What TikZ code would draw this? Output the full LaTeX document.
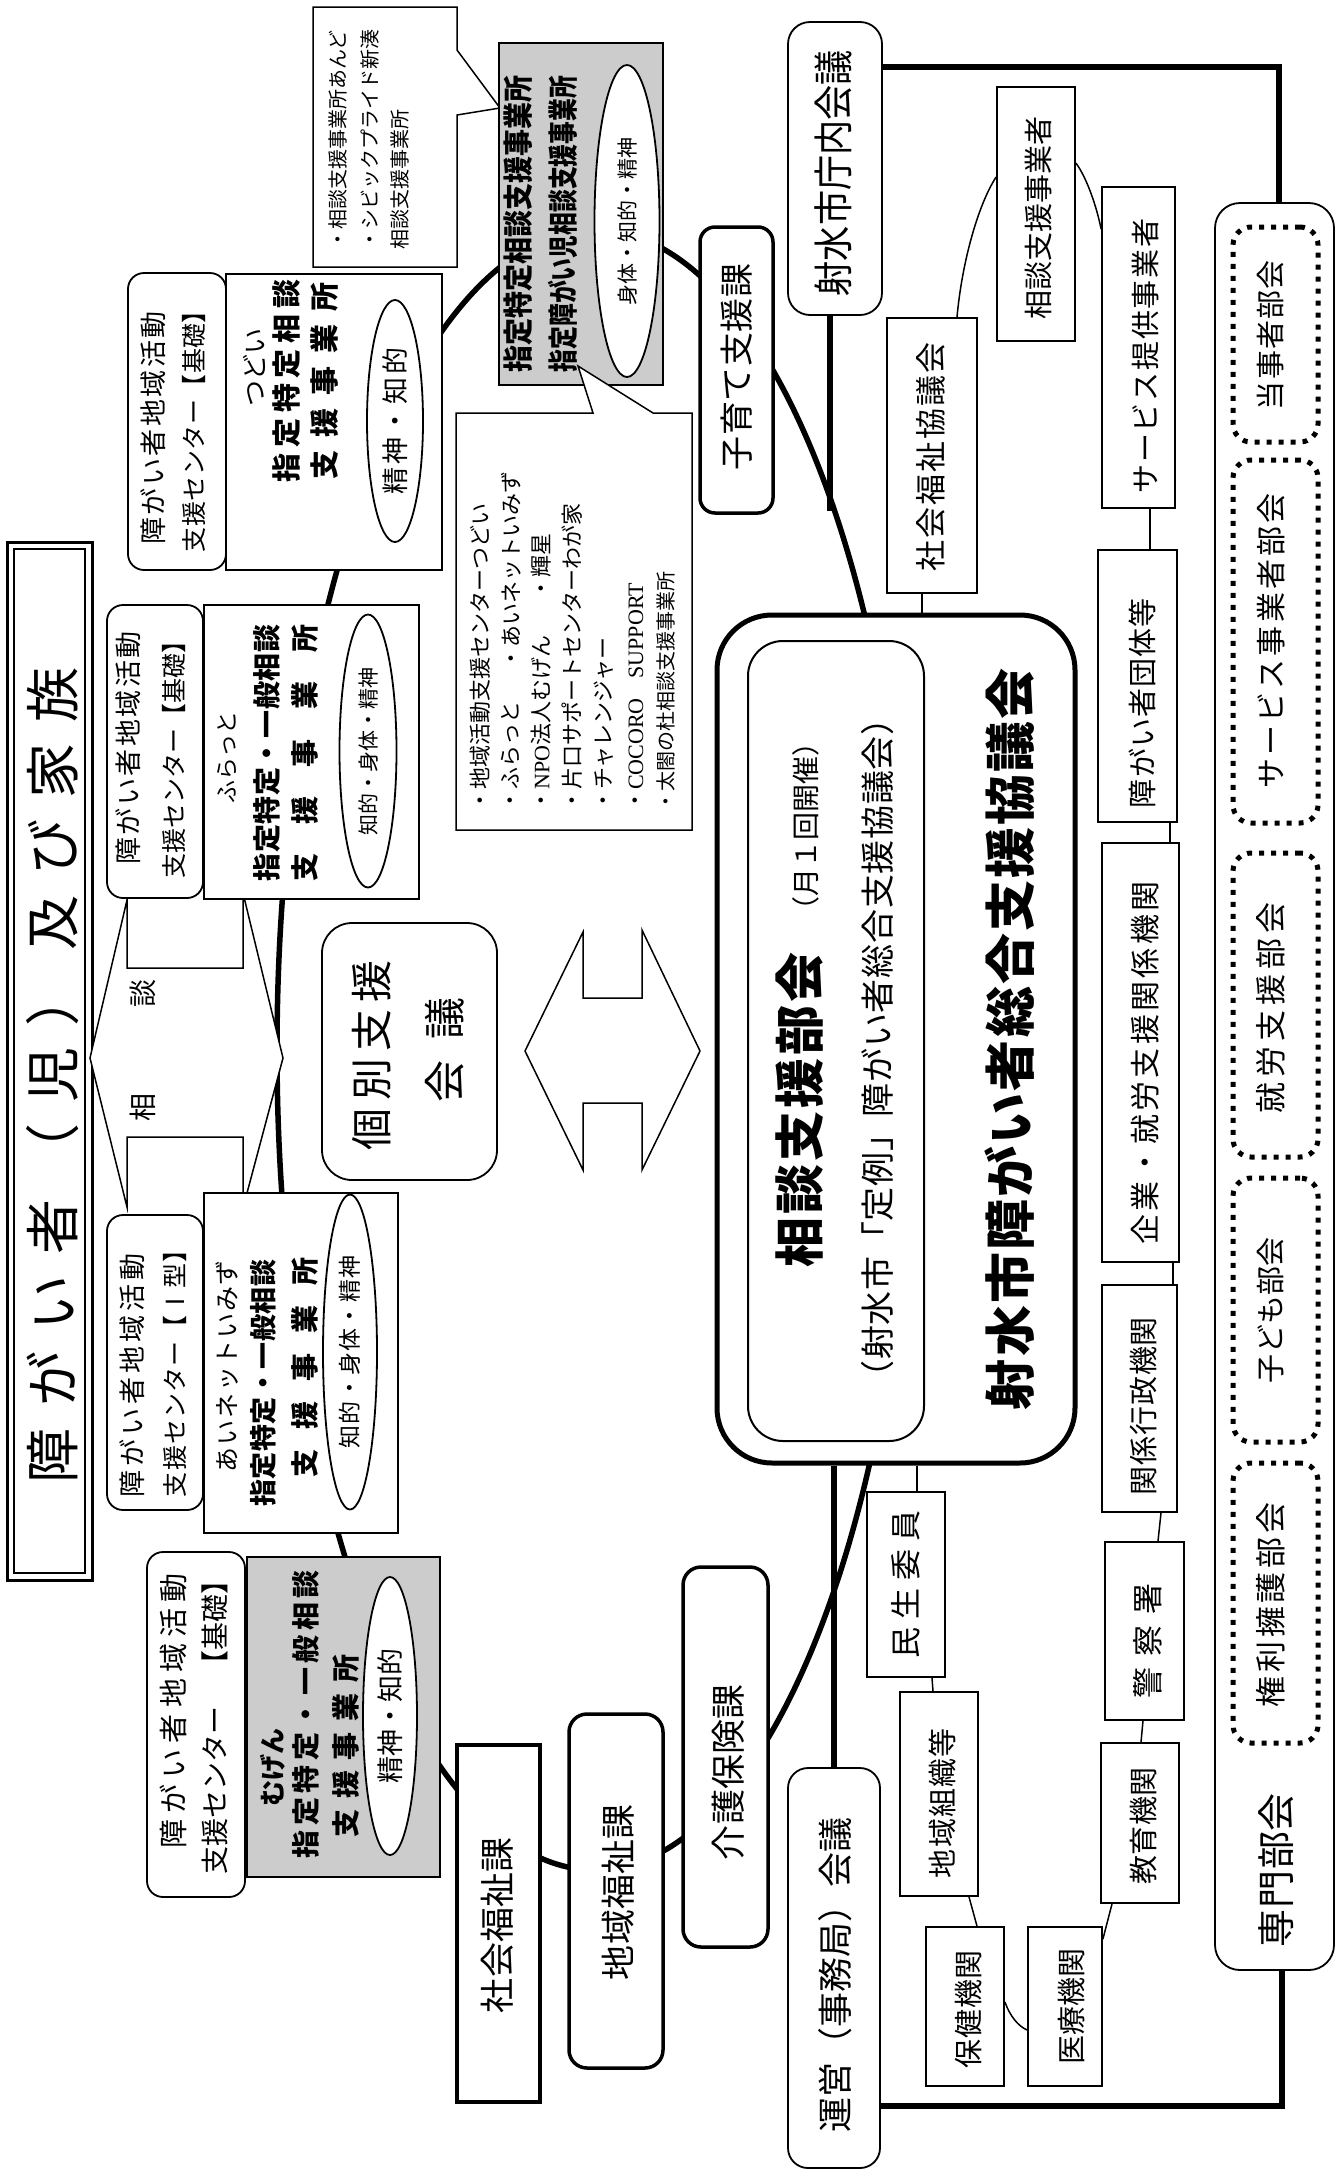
\documentclass[tikz,border=0pt]{standalone}
\usepackage{fontspec}
\setmainfont{Noto Sans CJK JP}
\newfontfamily\lat{Liberation Serif}
\usetikzlibrary{fit,calc,shapes.geometric,backgrounds}
\newcommand\fsz[1]{\fontsize{#1pt}{#1pt}\selectfont}
\ExplSyntaxOn
\tl_new:N \l_spr_a_tl
\tl_new:N \l_spr_b_tl
\NewDocumentCommand\spreadtxt{mm}{
  \tl_set:Nn \l_spr_a_tl {#2}
  \tl_set:Nx \l_spr_b_tl { \tl_tail:N \l_spr_a_tl }
  \makebox[#1][s]{ \tl_head:N \l_spr_a_tl \tl_map_inline:Nn \l_spr_b_tl { \hfill ##1 } }
}
\ExplSyntaxOff
\begin{document}
\begin{tikzpicture}[x=1pt,y=-1pt,
  tx/.style={rotate=90, inner sep=0pt},
  bx/.style={draw, line width=1.8pt, fill=white, inner sep=0pt},
  thkbx/.style={draw, line width=3.5pt, fill=white, inner sep=0pt},
  shd/.style={draw, line width=1.8pt, fill=black!20, inner sep=0pt},
  dotbx/.style={draw, line width=5pt, dash pattern=on 5pt off 7pt, rounded corners=18pt, inner sep=0pt},
  ell/.style={draw, ellipse, line width=1.8pt, fill=white, inner sep=0pt, rotate=90},
  thk/.style={line width=5.5pt},
  thn/.style={line width=1.5pt}]
\useasboundingbox (0,0) rectangle (1343,2180);

% ---------- title ----------
\node[bx, line width=3pt, fit={(7,542)(92,1580)}] (ttlO) {};
\node[draw, line width=1.5pt, inner sep=0pt, fit={(14,549)(85,1573)}] (ttlI) {};
\node[tx] (ttl) at (53,1075) {\fsz{55}\spreadtxt{816pt}{障がい者（児）及び家族}};

% ---------- consultation arrow ----------
\draw[thn, fill=white] (90,1058) -- (127,900) -- (127,968) -- (243,968) -- (243,893) -- (283,1058) -- (243,1208) -- (243,1137) -- (127,1137) -- (127,1207) -- cycle;
\node[tx] (soA) at (143,1107) {\fsz{28}相};
\node[tx] (soB) at (143,993) {\fsz{28}談};

% ---------- top callout ----------
\draw[thn, fill=white] (313,7) -- (457,7) -- (457,50) -- (500,108) -- (457,115) -- (457,267) -- (313,267) -- cycle;
\node[tx, anchor=west] (ca1) at (338,250) {\fsz{20}・相談支援事業所あんど};
\node[tx, anchor=west] (ca2) at (370,250) {\fsz{20}・シビックプライド新湊};
\node[tx, anchor=west] (ca3) at (400,250) {\fsz{20}相談支援事業所};

% ---------- tsudoi ----------
\node[bx, rounded corners=16pt, fit={(128,273)(226,570)}] (rbA) {};
\node[tx] (tA1) at (153,428) {\fsz{27}\spreadtxt{233pt}{障がい者地域活動}};
\node[tx] (tA2) at (194,425) {\fsz{25}\spreadtxt{254pt}{支援センター【基礎】}};
\node[bx, fit={(226,274)(442,570)}] (bxA) {};
\node[tx] (tA3) at (254,367) {\fsz{26}つどい};
\node[tx] (tA4) at (287,381) {\bfseries\fsz{29}\spreadtxt{203pt}{指定特定相談}};
\node[tx] (tA5) at (325,381) {\bfseries\fsz{29}\spreadtxt{197pt}{支援事業所}};
\node[ell, minimum width=242pt, minimum height=56pt] (elA) at (395,421) {\fsz{27}\spreadtxt{147pt}{精神・知的}};

% ---------- furatto ----------
\node[bx, rounded corners=16pt, fit={(107,605)(203,898)}] (rbB) {};
\node[tx] (tB1) at (128,748) {\fsz{27}\spreadtxt{233pt}{障がい者地域活動}};
\node[tx] (tB2) at (174,754) {\fsz{25}\spreadtxt{248pt}{支援センター【基礎】}};
\node[bx, fit={(204,605)(419,899)}] (bxB) {};
\node[tx] (tB3) at (227,757) {\fsz{23}ふらっと};
\node[tx] (tB4) at (267,753) {\bfseries\fsz{28}\spreadtxt{257pt}{指定特定・一般相談}};
\node[tx] (tB5) at (305,753) {\bfseries\fsz{28}\spreadtxt{257pt}{支援事業所}};
\node[ell, minimum width=273pt, minimum height=57pt] (elB) at (368,751) {\fsz{21}知的・身体・精神};

% ---------- ainet ----------
\node[bx, rounded corners=16pt, fit={(107,1215)(203,1510)}] (rbC) {};
\node[tx] (tC1) at (132,1375) {\fsz{27}\spreadtxt{244pt}{障がい者地域活動}};
\node[tx] (tC2) at (175,1367) {\fsz{25}\spreadtxt{260pt}{支援センター【Ⅰ型】}};
\node[bx, fit={(204,1193)(398,1533)}] (bxC) {};
\node[tx] (tC3) at (227,1366) {\fsz{25}\spreadtxt{212pt}{あいネットいみず}};
\node[tx] (tC4) at (263,1383) {\bfseries\fsz{27}\spreadtxt{247pt}{指定特定・一般相談}};
\node[tx] (tC5) at (305,1367) {\bfseries\fsz{28}\spreadtxt{220pt}{支援事業所}};
\node[ell, minimum width=315pt, minimum height=54pt] (elC) at (350,1352) {\fsz{23}\spreadtxt{193pt}{知的・身体・精神}};

% ---------- mugen ----------
\node[bx, rounded corners=16pt, fit={(147,1552)(245,1897)}] (rbD) {};
\node[tx] (tD1) at (173,1711) {\fsz{29}\spreadtxt{275pt}{障がい者地域活動}};
\node[tx] (tD2) at (215,1722) {\fsz{28}\spreadtxt{305pt}{支援センター　【基礎】}};
\node[shd, fit={(247,1557)(440,1877)}] (bxD) {};
\node[tx] (tD3) at (273,1767) {\bfseries\fsz{26}むげん};
\node[tx] (tD4) at (306,1714) {\bfseries\fsz{28}\spreadtxt{288pt}{指定特定・一般相談}};
\node[tx] (tD5) at (346,1746) {\bfseries\fsz{28}\spreadtxt{183pt}{支援事業所}};
\node[ell, minimum width=278pt, minimum height=54pt] (elD) at (390,1716) {\fsz{27}精神・知的};

% ---------- individual support ----------
\node[bx, rounded corners=30pt, fit={(322,923)(497,1180)}] (ikb) {};
\node[tx] (tI1) at (372,1055) {\fsz{42}\spreadtxt{190pt}{個別支援}};
\node[tx] (tI2) at (445,1050) {\fsz{42}\spreadtxt{105pt}{会議}};
\draw[thn, fill=white] (525,1051) -- (583,932) -- (583,998) -- (642,998) -- (642,930) -- (700,1051) -- (642,1170) -- (642,1103) -- (583,1103) -- (583,1170) -- cycle;

% ---------- shaded top box ----------
\node[shd, fit={(499,43)(663,385)}] (bxE) {};
\node[tx] (tE1) at (518,224) {\bfseries\fsz{30}\scalebox{0.9}[1]{指定特定相談支援事業所}};
\node[tx] (tE2) at (563,224) {\bfseries\fsz{30}\scalebox{0.76}[1]{指定障がい児相談支援事業所}};
\node[ell, minimum width=312pt, minimum height=65pt] (elE) at (627,221) {\fsz{21}身体・知的・精神};

% ---------- lower callout ----------
\draw[thn, fill=white] (456,413) -- (593,413) -- (578,366) -- (653,413) -- (692,413) -- (692,830) -- (456,830) -- cycle;
\node[tx, anchor=west] (cb1) at (480,812) {\fsz{22}・地域活動支援センターつどい};
\node[tx, anchor=west] (cb2) at (511,812) {\fsz{22}・ふらっと};
\node[tx, anchor=west] (cb2b) at (511,670) {\fsz{22}・あいネットいみず};
\node[tx, anchor=west] (cb3) at (541,812) {\fsz{22}・{\lat NPO}法人むげん};
\node[tx, anchor=west] (cb3b) at (541,600) {\fsz{22}・輝星};
\node[tx, anchor=west] (cb4) at (572,812) {\fsz{22}・片口サポートセンターわが家};
\node[tx, anchor=west] (cb5) at (604,812) {\fsz{22}・チャレンジャー};
\node[tx, anchor=west] (cb6) at (636,812) {\fsz{22}・{\lat COCORO\hspace{0.9em}SUPPORT}};
\node[tx, anchor=west] (cb7) at (666,812) {\fsz{20}・太閤の杜相談支援事業所};

% ---------- city offices ----------
\node[thkbx, rounded corners=15pt, fit={(700,227)(773,513)}] (rbE) {};
\node[tx] (tKo) at (737,367) {\fsz{34}\spreadtxt{207pt}{子育て支援課}};
\node[bx, rounded corners=22pt, fit={(788,22)(882,315)}] (rbF) {};
\node[tx] (tF) at (833,173) {\fsz{40}\scalebox{0.88}[1]{射水市庁内会議}};
\node[thkbx, fit={(457,1745)(540,2102)}] (sfk) {};
\node[tx] (tsfk) at (497,1925) {\fsz{35}\spreadtxt{176pt}{社会福祉課}};
\node[thkbx, rounded corners=18pt, fit={(569,1714)(663,2068)}] (cfk) {};
\node[tx] (tcfk) at (618,1892) {\fsz{35}\spreadtxt{176pt}{地域福祉課}};
\node[thkbx, rounded corners=18pt, fit={(683,1567)(768,1947)}] (kai) {};
\node[tx] (tkai) at (728,1772) {\fsz{35}\spreadtxt{176pt}{介護保険課}};
\node[bx, rounded corners=20pt, fit={(788,1768)(880,2168)}] (unei) {};
\node[tx] (tunei) at (835,1977) {\fsz{35}\spreadtxt{310pt}{運営（事務局）会議}};

% ---------- central council ----------
\node[draw, line width=5pt, fill=white, inner sep=0pt, rounded corners=55pt, fit={(717,615)(1075,1463)}] (bigO) {};
\node[draw, line width=2pt, inner sep=0pt, rounded corners=35pt, fit={(748,641)(924,1441)}] (bigI) {};
\node[tx] (tG1) at (800,1110) {\bfseries\fsz{50}\spreadtxt{315pt}{相談支援部会}};
\node[tx] (tG2) at (806,834) {\fsz{28}\spreadtxt{180pt}{（月１回開催）}};
\node[tx] (tG3) at (878,1048) {\fsz{34}\spreadtxt{693pt}{（射水市「定例」障がい者総合支援協議会）}};
\node[tx] (tG4) at (1010,1039) {\bfseries\fsz{51}\spreadtxt{742pt}{射水市障がい者総合支援協議会}};

% ---------- member boxes ----------
\node[bx, fit={(887,318)(977,593)}] (shk) {};
\node[tx] (tshk) at (931,457) {\fsz{31}\spreadtxt{229pt}{社会福祉協議会}};
\node[bx, fit={(997,87)(1075,341)}] (sds) {};
\node[tx] (tsds) at (1038,218) {\fsz{29}\spreadtxt{203pt}{相談支援事業者}};
\node[bx, fit={(1102,187)(1175,508)}] (svc) {};
\node[tx] (tsvc) at (1145,356) {\fsz{29}\spreadtxt{275pt}{サービス提供事業者}};
\node[bx, fit={(1098,550)(1177,822)}] (dan) {};
\node[tx] (tdan) at (1142,703) {\fsz{29}\spreadtxt{210pt}{障がい者団体等}};
\node[bx, fit={(1102,843)(1179,1262)}] (kig) {};
\node[tx] (tkig) at (1145,1063) {\fsz{30}\spreadtxt{363pt}{企業・就労支援関係機関}};
\node[bx, fit={(1102,1285)(1177,1512)}] (gyo) {};
\node[tx] (tgyo) at (1143,1406) {\fsz{29}\spreadtxt{178pt}{関係行政機関}};
\node[bx, fit={(1105,1542)(1184,1720)}] (kei) {};
\node[tx] (tkei) at (1148,1641) {\fsz{31}\spreadtxt{115pt}{警察署}};
\node[bx, fit={(1101,1743)(1179,1903)}] (kyo) {};
\node[tx] (tkyo) at (1143,1826) {\fsz{29}\spreadtxt{117pt}{教育機関}};
\node[bx, fit={(1028,1927)(1102,2086)}] (iry) {};
\node[tx] (tiry) at (1071,2008) {\fsz{29}\spreadtxt{113pt}{医療機関}};
\node[bx, fit={(926,1927)(1004,2086)}] (hok) {};
\node[tx] (thok) at (968,2009) {\fsz{29}\spreadtxt{118pt}{保健機関}};
\node[bx, fit={(900,1692)(978,1896)}] (chi) {};
\node[tx] (tchi) at (942,1803) {\fsz{29}\spreadtxt{150pt}{地域組織等}};
\node[bx, fit={(867,1492)(945,1677)}] (min) {};
\node[tx] (tmin) at (906,1584) {\fsz{31}\spreadtxt{148pt}{民生委員}};

% ---------- expert sub-committees ----------
\node[bx, rounded corners=25pt, fit={(1215,203)(1334,1970)}] (sen) {};
\node[tx] (tsen) at (1276,1870) {\fsz{38}\spreadtxt{154pt}{専門部会}};
\node[dotbx, fit={(1233,227)(1318,442)}] (d1) {};
\node[tx] (td1) at (1271,335) {\fsz{29}\spreadtxt{150pt}{当事者部会}};
\node[dotbx, fit={(1233,460)(1318,823)}] (d2) {};
\node[tx] (td2) at (1271,641) {\fsz{30}\spreadtxt{295pt}{サービス事業者部会}};
\node[dotbx, fit={(1233,853)(1318,1157)}] (d3) {};
\node[tx] (td3) at (1271,1008) {\fsz{31}\spreadtxt{211pt}{就労支援部会}};
\node[dotbx, fit={(1233,1178)(1318,1442)}] (d4) {};
\node[tx] (td4) at (1271,1310) {\fsz{29}\spreadtxt{146pt}{子ども部会}};
\node[dotbx, fit={(1233,1463)(1318,1743)}] (d5) {};
\node[tx] (td5) at (1271,1605) {\fsz{31}\spreadtxt{205pt}{権利擁護部会}};

% ---------- background: ring, frame, connectors ----------
\begin{scope}[on background layer]
\fill[white] (0,0) rectangle (1343,2180);
\node[draw, ellipse, line width=5.5pt, minimum width=636pt, minimum height=1640pt, inner sep=0pt] (ring) at (595,1050) {};
\coordinate (frTR) at (1279,67);
\coordinate (frBR) at (1282,2106);
\draw[thk] (rbF.east |- frTR) -- (frTR) -- (frTR |- sen.north);
\draw[thk] (frBR |- sen.south) -- (frBR) -- (frBR -| unei.east);
\draw[thk] ([xshift=-5pt]rbF.south) -- ++(0,195);
\draw[thk] (unei.north |- bigO.south) -- (unei.north);
\draw[thn] ([xshift=-10pt]shk.south) -- ([xshift=-10pt]shk.south |- bigO.north);
\draw[thn] ([xshift=25pt]shk.north) .. controls (962,262) and (978,205) .. ([yshift=37pt]sds.west);
\draw[thn] ([yshift=51pt]sds.east) .. controls (1087,178) and (1097,208) .. ([yshift=-43pt]svc.north west);
\draw[thn] ([xshift=11.5pt]svc.south) -- ([xshift=12.5pt]dan.north);
\draw[thn] ([xshift=32.5pt]dan.south) -- ([xshift=29.5pt]kig.north);
\draw[thn] ([xshift=32.5pt]kig.south) -- ([xshift=33.5pt]gyo.north);
\draw[thn] ([xshift=21.5pt]gyo.south) -- ([xshift=13.5pt]kei.north);
\draw[thn] ([xshift=-1.5pt]kei.south) -- ([xshift=1pt]kyo.north);
\draw[thn] ([xshift=-28pt]kyo.south) -- ([yshift=-13pt]iry.north east);
\draw[thn] ([yshift=-23.5pt]iry.west) .. controls (1018,2026) and (1010,2016) .. ([yshift=4.5pt]hok.east);
\draw[thn] ([xshift=12pt]hok.north) -- ([xshift=30pt]chi.south);
\draw[thn] ([xshift=-6pt]chi.north) -- ([xshift=26pt]min.south);
\draw[thn] ([xshift=11pt]min.north) -- ([xshift=11pt]min.north |- bigO.south);
\end{scope}
\end{tikzpicture}
\end{document}
